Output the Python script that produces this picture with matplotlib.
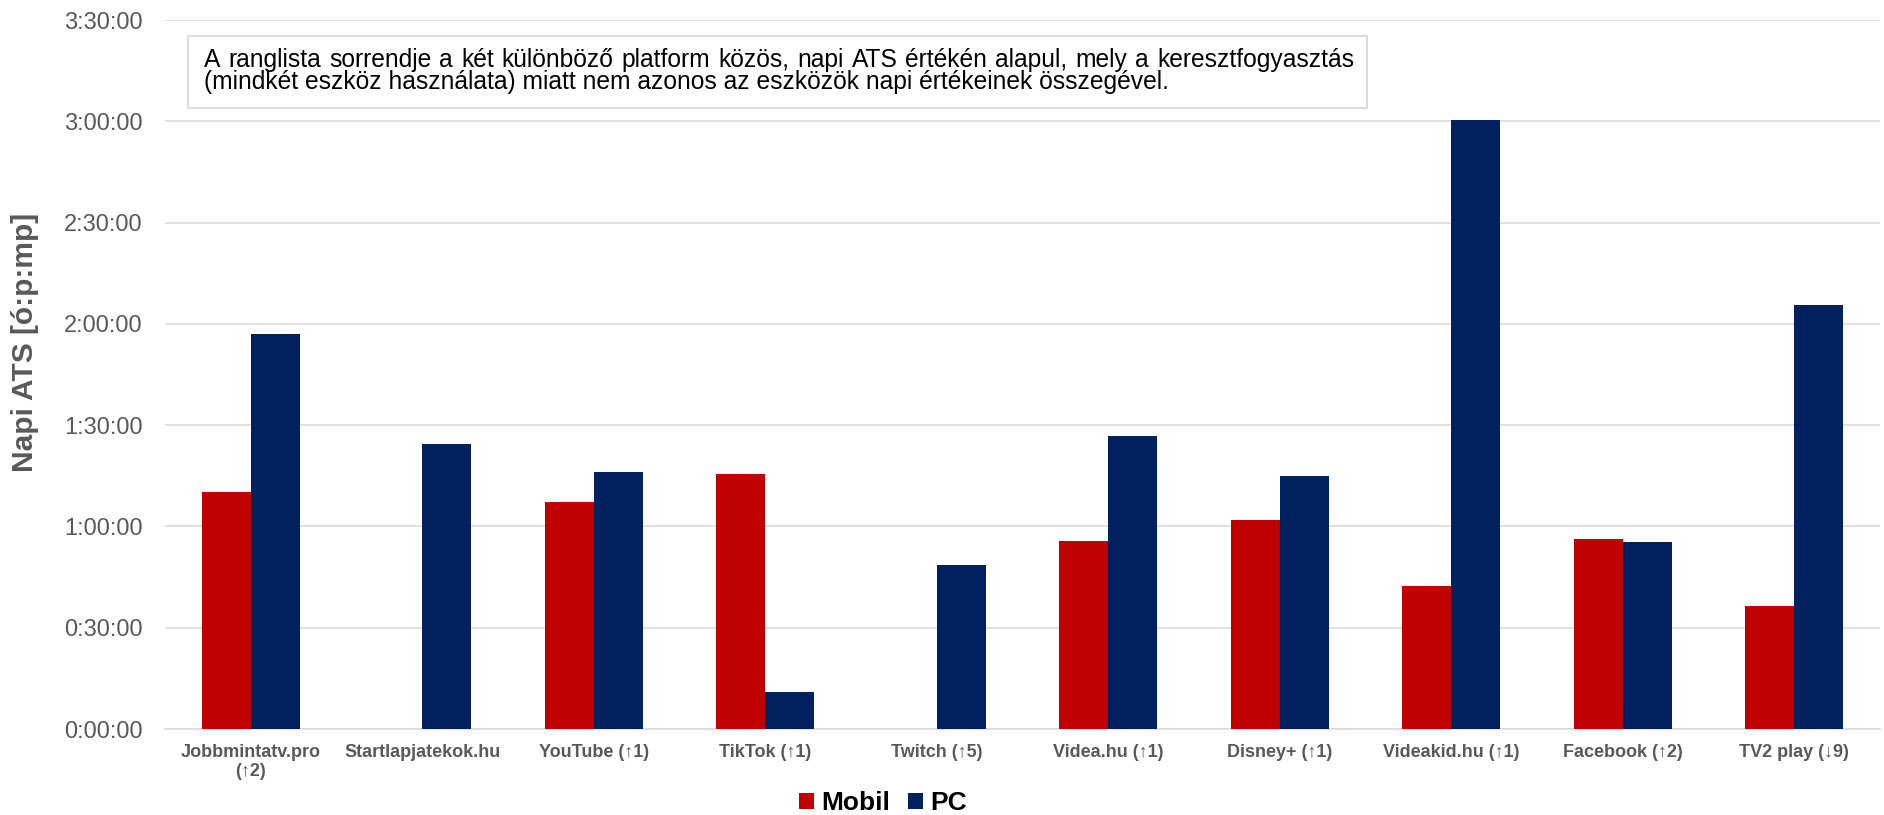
import numpy as np
import matplotlib.pyplot as plt
from matplotlib.ticker import FuncFormatter, MultipleLocator
from matplotlib.patches import Rectangle

plt.rcParams['font.family'] = ['Liberation Sans', 'DejaVu Sans']

# napi ATS, percben
categories = ['Jobbmintatv.pro\n(↑2)', 'Startlapjatekok.hu', 'YouTube (↑1)', 'TikTok (↑1)',
              'Twitch (↑5)', 'Videa.hu (↑1)', 'Disney+ (↑1)', 'Videakid.hu (↑1)',
              'Facebook (↑2)', 'TV2 play (↓9)']
mobil = [70.1, np.nan, 67.1, 75.4, np.nan, 55.6, 61.9, 42.4, 56.3, 36.3]
pc = [116.9, 84.5, 76.2, 10.9, 48.7, 86.7, 74.8, 180.5, 55.5, 125.7]
series_names = ['Mobil', 'PC']
colors = ['#C00000', '#002060']

note1 = ('A ranglista sorrendje a két különböző platform közös, napi ATS értékén alapul, '
         'mely a keresztfogyasztás')
note2 = '(mindkét eszköz használata) miatt nem azonos az eszközök napi értékeinek összegével.'

W, H = 1884, 815
fig = plt.figure(figsize=(W / 100, H / 100), dpi=100)
ax = fig.add_axes([165 / W, 1 - 729 / H, 1715 / W, 709 / H])

x = np.arange(len(categories))
bw = 0.286
ax.bar(x - bw / 2, mobil, bw, color=colors[0], label=series_names[0], zorder=3)
ax.bar(x + bw / 2, pc, bw, color=colors[1], label=series_names[1], zorder=3)

ax.set_xlim(-0.5, len(categories) - 0.5)
ax.set_ylim(0, 210)
ax.yaxis.set_major_locator(MultipleLocator(30))


def hms(v, pos):
    m = int(round(v))
    return '%d:%02d:00' % (m // 60, m % 60)


ax.yaxis.set_major_formatter(FuncFormatter(hms))
ax.grid(axis='y', color='#D9D9D9', lw=1.1, zorder=0)
for s in ['top', 'right', 'left']:
    ax.spines[s].set_visible(False)
ax.spines['bottom'].set_color('#D9D9D9')
ax.spines['bottom'].set_linewidth(1.1)
ax.tick_params(axis='y', length=0, pad=16, labelsize=17, labelcolor='#595959')
ax.tick_params(axis='x', length=0, pad=11, labelsize=13, labelcolor='#595959')
ax.set_xticks(x)
ax.set_xticklabels(categories, fontweight='bold', linespacing=1.15)

ax.set_ylabel('Napi ATS [ó:p:mp]', fontsize=21.5, fontweight='bold', color='#595959')
ax.yaxis.set_label_coords(-0.0735, 0.545)

fig.legend(loc='center', bbox_to_anchor=(883 / W, 1 - 803 / H), ncol=2, frameon=False,
           prop={'size': 19, 'weight': 'bold'}, handlelength=0.55, handleheight=0.55,
           handletextpad=0.27, columnspacing=0.7, borderpad=0)

# megjegyzes doboz
fig.patches.append(Rectangle((188 / W, 1 - 108 / H), (1367 - 188) / W, 72 / H,
                             transform=fig.transFigure, facecolor='white',
                             edgecolor='#D9D9D9', lw=1.3, zorder=5))
fs = 17.7
fig.canvas.draw()
r = fig.canvas.get_renderer()
words = note1.split()
widths = []
for w in words:
    t = fig.text(0, 0, w, fontsize=fs)
    widths.append(t.get_window_extent(r).width)
    t.remove()
x0, x1 = 204, 1354
gap = (x1 - x0 - sum(widths)) / (len(words) - 1)
pos = x0
for w, wd in zip(words, widths):
    fig.text(pos / W, 1 - 66.7 / H, w, fontsize=fs, color='black', va='baseline', zorder=6)
    pos += wd + gap
fig.text(x0 / W, 1 - 88.5 / H, note2, fontsize=fs, color='black', va='baseline', zorder=6)

fig.savefig('out.png', dpi=100)
